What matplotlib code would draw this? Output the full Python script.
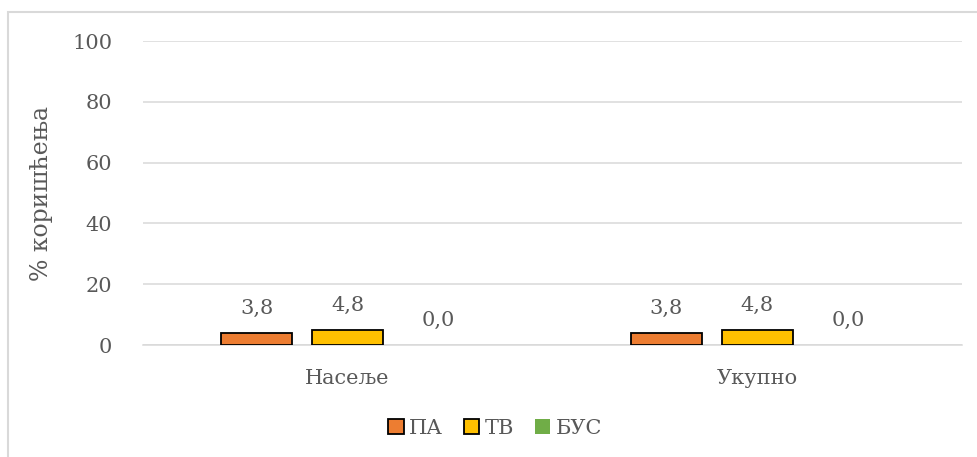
import matplotlib
matplotlib.use("Agg")
import matplotlib.pyplot as plt
import numpy as np
from matplotlib.patches import Rectangle

categories = ["Насеље", "Укупно"]
series_names = ["ПА", "ТВ", "БУС"]
values_pa = [3.8, 3.8]
values_tv = [4.8, 4.8]
values_bus = [0.0, 0.0]

colors = ["#ED7D31", "#FFC000", "#70AD47"]
edges = ["black", "black", "none"]
text_color = "#595959"

plt.rcParams["font.family"] = ["DejaVu Serif"]

fig = plt.figure(figsize=(9.77, 4.57), dpi=100)
ax = fig.add_axes([0.146, 0.245, 0.839, 0.665])

# outer chart border (partly cut off at right/bottom)
fig.patches.append(Rectangle((8 / 977, -0.05), 1.1, 1 - 12 / 457 + 0.05,
                             transform=fig.transFigure, fill=False,
                             edgecolor="#D9D9D9", linewidth=1.5))

x = np.arange(len(categories))
width = 0.173
offset = 0.222
for i, (vals, name) in enumerate(zip([values_pa, values_tv, values_bus], series_names)):
    pos = x + (i - 1) * offset
    bars = ax.bar(pos, vals, width, color=colors[i], edgecolor=edges[i],
                  linewidth=1.3, label=name, zorder=3)
    for b, v in zip(bars, vals):
        ax.annotate(f"{v:.1f}".replace(".", ","), (b.get_x() + b.get_width() / 2, v),
                    xytext=(0, 11), textcoords="offset points", ha="center",
                    va="bottom", fontsize=15, color=text_color)

ax.set_xlim(-0.5, 1.5)
ax.set_ylim(0, 100)
ax.set_yticks(range(0, 101, 20))
ax.set_xticks(x)
ax.set_xticklabels(categories)
ax.grid(axis="y", color="#D9D9D9", linewidth=1.1, zorder=0)
ax.tick_params(axis="both", length=0, labelsize=15, labelcolor=text_color)
ax.tick_params(axis="y", pad=22)
ax.tick_params(axis="x", pad=17)
for s in ["top", "right", "left"]:
    ax.spines[s].set_visible(False)
ax.spines["bottom"].set_color("#D9D9D9")
ax.spines["bottom"].set_linewidth(1.1)
ax.set_ylabel("% коришћења", fontsize=17, color=text_color, labelpad=14)

ax.legend(loc="center", bbox_to_anchor=(0.43, -0.275), ncol=3, frameon=False,
          fontsize=15, labelcolor=text_color, handlelength=0.75, handleheight=0.75,
          handletextpad=0.25, columnspacing=1.0)

fig.savefig("out.png", dpi=100)
